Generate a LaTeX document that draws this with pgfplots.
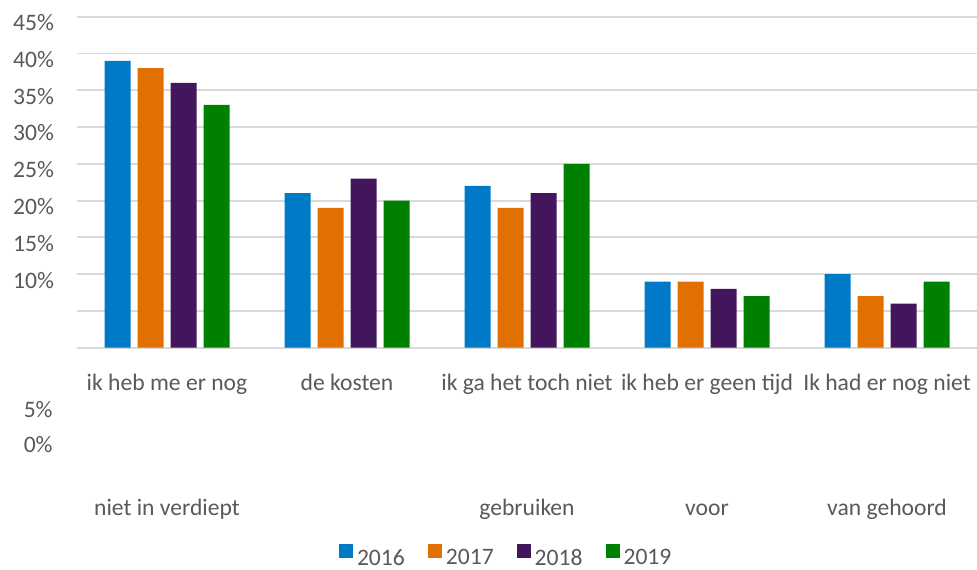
\documentclass[border=0pt]{standalone}
\usepackage{fontspec}
\setmainfont{Carlito}
\usepackage{pgfplots}
\pgfplotsset{compat=1.18}

\definecolor{c2016}{RGB}{0,121,198}
\definecolor{c2017}{RGB}{225,112,0}
\definecolor{c2018}{RGB}{66,21,92}
\definecolor{c2019}{RGB}{0,128,0}
\definecolor{gridgray}{RGB}{217,217,217}
\definecolor{labelgray}{RGB}{89,89,89}

\newcommand{\lblfont}{\fontsize{11.8}{14}\selectfont}
\pgfplotsset{sqlegend/.style={legend image code/.code={\fill[##1] (0pt,0.5pt) rectangle (7pt,7.5pt);}}}

\begin{document}
\begin{tikzpicture}
\begin{axis}[
    scale only axis,
    width=450pt, height=165.5pt,
    ybar=3.5pt, bar width=13pt,
    xmin=-0.5, xmax=4.5, ymin=0, ymax=45,
    xtick={0,1,2,3,4},
    xticklabels={{ik heb me er nog\\[48.5pt]niet in verdiept},
                 {de kosten},
                 {ik ga het toch niet\\[48.5pt]gebruiken},
                 {ik heb er geen tijd\\[48.5pt]voor},
                 {Ik had er nog niet\\[48.5pt]van gehoord}},
    ytick={0,5,...,45},
    yticklabels={,,10\%,15\%,20\%,25\%,30\%,35\%,40\%,45\%},
    ymajorgrids,
    grid style={color=gridgray, line width=0.9pt},
    axis line style={draw=none},
    major tick length=0pt,
    tick label style={font=\lblfont, text=labelgray},
    yticklabel style={xshift=-8pt, yshift=-3pt},
    xticklabel style={align=center, anchor=north, yshift=-9.5pt},
    clip=false,
    legend columns=4,
    legend style={at={(0.478,-0.635)}, anchor=center, draw=none, fill=none,
        font=\lblfont, text=labelgray,
        /tikz/every even column/.append style={column sep=9.5pt}},
]
\addplot[fill=c2016, draw=none, sqlegend] coordinates {(0,39) (1,21) (2,22) (3,9) (4,10)};
\addplot[fill=c2017, draw=none, sqlegend] coordinates {(0,38) (1,19) (2,19) (3,9) (4,7)};
\addplot[fill=c2018, draw=none, sqlegend] coordinates {(0,36) (1,23) (2,21) (3,8) (4,6)};
\addplot[fill=c2019, draw=none, sqlegend] coordinates {(0,33) (1,20) (2,25) (3,7) (4,9)};
\legend{2016,2017,2018,2019}
\node[anchor=east, inner sep=0pt, xshift=-12pt, font=\lblfont, text=labelgray] at (axis cs:-0.5,-8.47) {5\%};
\node[anchor=east, inner sep=0pt, xshift=-12pt, font=\lblfont, text=labelgray] at (axis cs:-0.5,-13.23) {0\%};
\coordinate (bl) at (rel axis cs:0,0);
\end{axis}
\pgfresetboundingbox
\path[use as bounding box] ([shift={(-38.5pt,-110.65pt)}]bl) rectangle ([shift={(450pt,173.85pt)}]bl);
\end{tikzpicture}
\end{document}
